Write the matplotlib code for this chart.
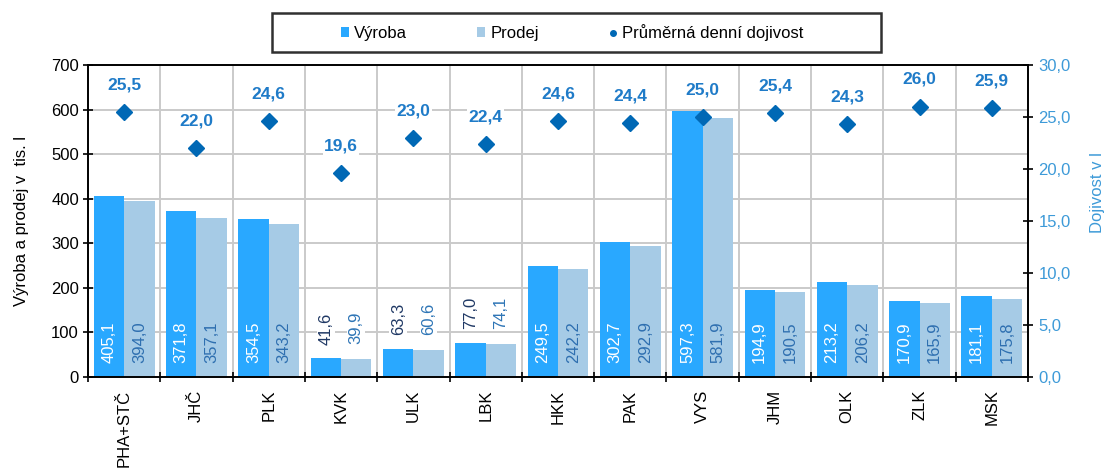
import matplotlib
matplotlib.use("Agg")
import matplotlib.pyplot as plt
import numpy as np
from matplotlib.lines import Line2D
from matplotlib.patches import Patch, Rectangle

plt.rcParams['font.family'] = ['Liberation Sans', 'DejaVu Sans']

kraje = ["PHA+STČ", "JHČ", "PLK", "KVK", "ULK", "LBK", "HKK", "PAK", "VYS", "JHM", "OLK", "ZLK", "MSK"]
vyroba = [405.1, 371.8, 354.5, 41.6, 63.3, 77.0, 249.5, 302.7, 597.3, 194.9, 213.2, 170.9, 181.1]
prodej = [394.0, 357.1, 343.2, 39.9, 60.6, 74.1, 242.2, 292.9, 581.9, 190.5, 206.2, 165.9, 175.8]
dojivost = [25.5, 22.0, 24.6, 19.6, 23.0, 22.4, 24.6, 24.4, 25.0, 25.4, 24.3, 26.0, 25.9]

C_VYR = '#29A8FF'
C_PRO = '#A6CBE6'
C_DOJ = '#0068B5'
C_LAB = '#1F7BC8'
C_AX2 = '#3D9AD8'
FS = 12

def fmt(v, d=1):
    return f"{v:.{d}f}".replace('.', ',')

fig = plt.figure(figsize=(11.1, 4.7), dpi=100)
ax = fig.add_axes([0.0793, 0.198, 0.8468, 0.6638])
ax2 = ax.twinx()

x = np.arange(len(kraje))
w = 0.42
ax.bar(x - w/2, vyroba, w, color=C_VYR, zorder=2)
ax.bar(x + w/2, prodej, w, color=C_PRO, zorder=2)

ax.set_xlim(-0.5, len(kraje) - 0.5)
ax.set_ylim(0, 700)
ax.set_yticks(np.arange(0, 701, 100))
ax.set_xticks(x)
ax.set_xticklabels(kraje, rotation=90, fontsize=FS)
ax.set_xticks(np.arange(-0.5, len(kraje), 1), minor=True)
ax.tick_params(axis='x', which='major', length=0, pad=9)
ax.tick_params(axis='x', which='minor', length=7, width=1.2, direction='inout', color='black')
ax.tick_params(axis='y', labelsize=FS, length=7, direction='inout', width=1.2, pad=3)
ax.grid(axis='y', color='#CACACA', lw=1.4, zorder=0)
ax.grid(axis='x', which='minor', color='#CACACA', lw=1.4, zorder=0)
ax.set_axisbelow(True)
ax.set_ylabel("Výroba a prodej v  tis. l", fontsize=FS)
ax.yaxis.set_label_coords(-0.063, 0.5)

for s in ['left', 'bottom', 'top', 'right']:
    ax.spines[s].set_color('black')
    ax.spines[s].set_linewidth(1.4)

# bar labels
for i in range(len(kraje)):
    v, p = vyroba[i], prodej[i]
    if v > 150:
        ax.annotate(fmt(v), (x[i] - w/2, 0), xytext=(0, 10), textcoords='offset points',
                    rotation=90, ha='center', va='bottom', color='white', fontsize=FS, zorder=4)
        ax.annotate(fmt(p), (x[i] + w/2, 0), xytext=(0, 10), textcoords='offset points',
                    rotation=90, ha='center', va='bottom', color='#2E6FB0', fontsize=FS, zorder=4)
    else:
        ax.annotate(fmt(v), (x[i] - w/2, v), xytext=(0, 10), textcoords='offset points',
                    rotation=90, ha='center', va='bottom', color='#1F3864', fontsize=FS, zorder=4,
                    bbox=dict(facecolor='white', edgecolor='none', pad=1))
        ax.annotate(fmt(p), (x[i] + w/2, p), xytext=(0, 11), textcoords='offset points',
                    rotation=90, ha='center', va='bottom', color='#2E75B6', fontsize=FS, zorder=4,
                    bbox=dict(facecolor='white', edgecolor='none', pad=1))

ax2.set_ylim(0, 30)
ax2.set_yticks(np.arange(0, 30.1, 5))
ax2.set_yticklabels([fmt(t) for t in np.arange(0, 30.1, 5)])
ax2.tick_params(axis='y', labelsize=FS, labelcolor=C_AX2, length=7, direction='inout', width=1.2, pad=4)
ax2.set_ylabel("Dojivost v l", color=C_AX2, fontsize=FS)
ax2.yaxis.set_label_coords(1.066, 0.59)
for s in ['left', 'bottom', 'top', 'right']:
    ax2.spines[s].set_visible(False)
ax2.plot(x, dojivost, linestyle='none', marker='D', markersize=8, color=C_DOJ, zorder=5)
for i, d in enumerate(dojivost):
    ax2.annotate(fmt(d), (x[i], d), xytext=(0, 19.5), textcoords='offset points',
                 ha='center', va='center', color=C_LAB, fontsize=12.5, fontweight='bold',
                 bbox=dict(facecolor='white', edgecolor='none', pad=1))

# legend
handles = [Patch(facecolor=C_VYR, edgecolor='none'),
           Patch(facecolor=C_PRO, edgecolor='none'),
           Line2D([], [], linestyle='none', marker='o', markersize=4, color=C_DOJ)]
leg = fig.legend(handles, ["Výroba", "Prodej", "Průměrná denní dojivost"], ncol=3,
                 loc='center', bbox_to_anchor=(572 / 1110, 1 - 32.5 / 470), frameon=False,
                 fontsize=FS, handlelength=0.5, handleheight=0.5, handletextpad=0.3,
                 columnspacing=4.2)
fig.patches.append(Rectangle((272 / 1110, 1 - 52 / 470), 609 / 1110, 39 / 470,
                             transform=fig.transFigure, facecolor='white',
                             edgecolor='#303030', lw=1.8, zorder=0))

fig.savefig("out.png", dpi=100)
